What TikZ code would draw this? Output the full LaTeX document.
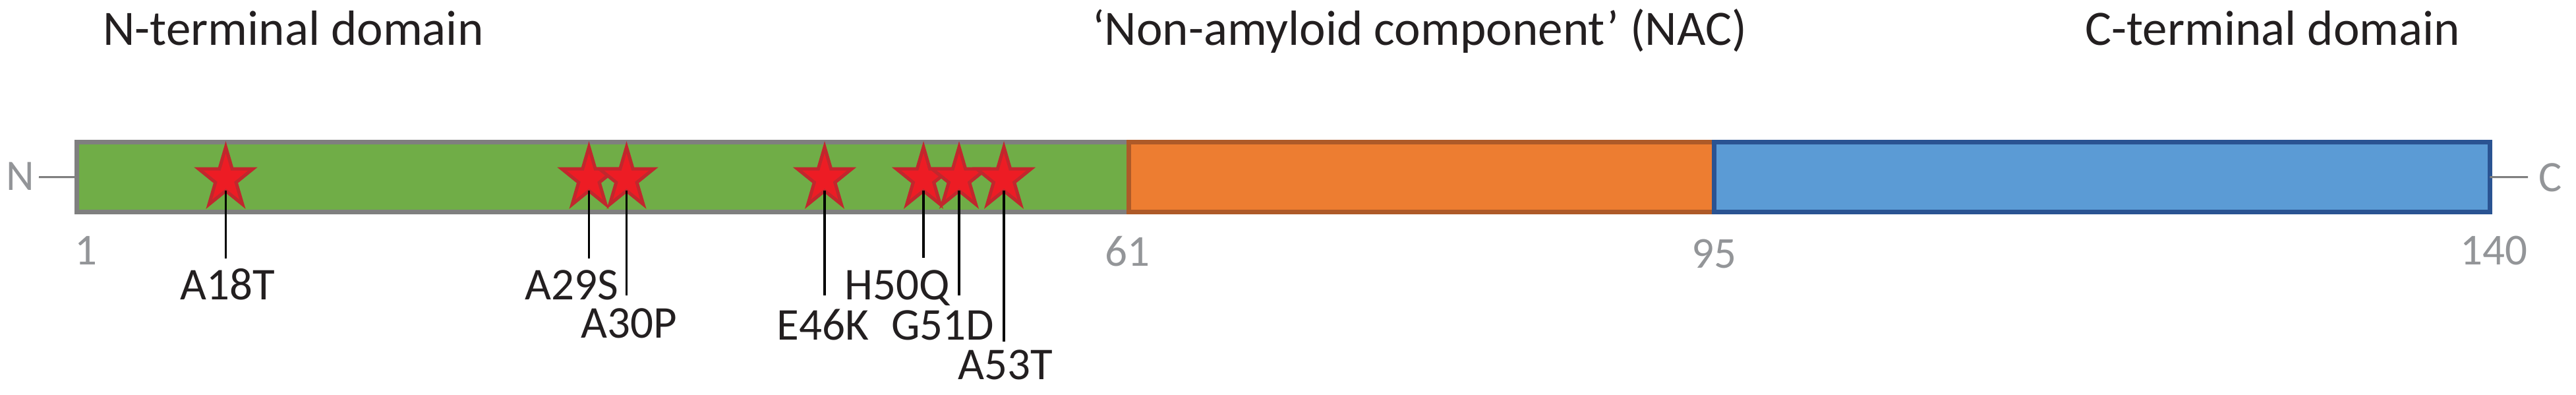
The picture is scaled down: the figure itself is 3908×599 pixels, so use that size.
\documentclass[tikz,border=0pt]{standalone}
\usepackage{fontspec}
\setmainfont{Carlito}
\usetikzlibrary{shapes.geometric}
\definecolor{ngreen}{HTML}{70AD47}
\definecolor{ngreenline}{HTML}{7F7F7F}
\definecolor{nacorange}{HTML}{ED7D31}
\definecolor{nacline}{HTML}{AE5A28}
\definecolor{cblue}{HTML}{5B9BD5}
\definecolor{cblueline}{HTML}{2A5392}
\definecolor{starred}{HTML}{ED1C24}
\definecolor{stardark}{HTML}{C1272D}
\definecolor{textblack}{HTML}{231F20}
\definecolor{numgray}{HTML}{939598}
\definecolor{termgray}{HTML}{7F7F7F}
\tikzset{
  domainbox/.style={rectangle, inner sep=0pt, outer sep=0pt, line width=6.7pt, line join=miter, minimum height=106pt},
  mutstar/.style={star, star points=5, star point ratio=2.618, minimum size=96pt, inner sep=0pt, outer sep=0pt, draw=stardark, fill=starred, line width=5pt, xscale=0.9},
  titletext/.style={font=\fontsize{75}{80}\selectfont, text=textblack, inner sep=0pt, anchor=base},
  mutlabel/.style={font=\fontsize{69}{74}\selectfont, text=textblack, inner sep=0pt, anchor=base},
  poslabel/.style={font=\fontsize{67}{72}\selectfont, text=numgray, inner sep=0pt, anchor=base},
  termlabel/.style={font=\fontsize{66}{70}\selectfont, text=numgray, inner sep=0pt, anchor=base},
  stem/.style={line width=3.3pt, draw=black},
  termline/.style={line width=3pt, draw=termgray}
}
\begin{document}
\begin{tikzpicture}[x=1pt,y=-1pt]
\useasboundingbox (0,0) rectangle (3908,599);
% titles
\node[titletext] (tN) at (445,68.3) {N-terminal domain};
\node[titletext] (tNAC) at (2153.5,68.3) {‘Non-amyloid component’ (NAC)};
\node[titletext] (tC) at (3448,68.3) {C-terminal domain};
% domains
\node[domainbox, draw=ngreenline, fill=ngreen, minimum width=1595.6pt] (green) at (914.5,268.7) {};
\node[domainbox, draw=nacline, fill=nacorange, minimum width=888pt] (orange) at (2156.3,268.7) {};
\node[domainbox, draw=cblueline, fill=cblue, minimum width=1177pt] (blue) at (3188.8,268.7) {};
% termini
\node[termlabel] (nlab) at (31,288) {N};
\node[termlabel] (clab) at (3869,290) {C};
\coordinate (nend) at (59,268.5);
\coordinate (cend) at (3835,268.5);
\draw[termline] (nend) -- (green.west);
\draw[termline] (blue.east) -- (cend);
% positions
\node[poslabel] (p1) at (130,401) {1};
\node[poslabel] (p61) at (1710.5,403) {61};
\node[poslabel] (p95) at (2600,406) {95};
\node[poslabel] (p140) at (3783,401) {140};
% stars
\foreach \id/\sx in {18/342.5, 29/893.5, 30/950.5, 46/1251, 50/1401, 51/1455, 53/1523}{
  \node[mutstar] (s\id) at (\sx,271) {};
}
\foreach \id/\sx/\ey/\lx/\ly/\txt in {18/342.5/392/345/454/A18T, 29/893.5/392/867/454/A29S, 30/950.5/448/954/512/A30P, 46/1251/448/1248.5/515/E46K, 50/1401/391/1361/454/H50Q, 51/1455/448/1430/515/G51D, 53/1523/518/1525/575/A53T}{
  \coordinate (e\id) at (\sx,\ey);
  \draw[stem] (s\id.inner point 3) -- (e\id);
  \node[mutlabel] (t\id) at (\lx,\ly) {\txt};
}
\end{tikzpicture}
\end{document}
